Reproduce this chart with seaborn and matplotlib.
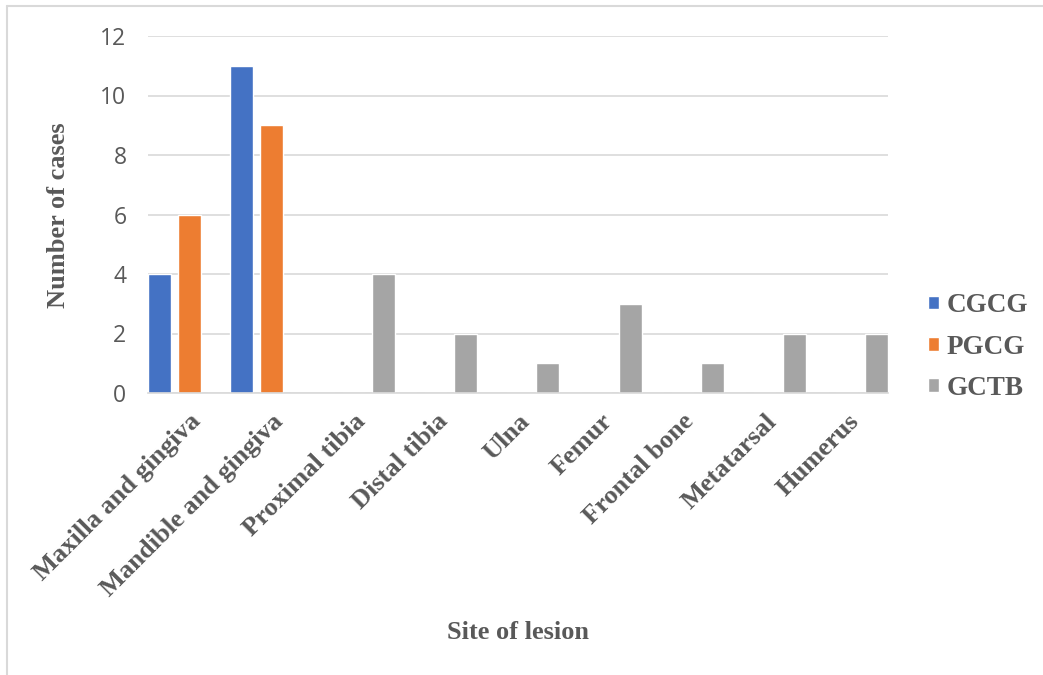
import matplotlib
matplotlib.use("Agg")
import matplotlib.pyplot as plt
from matplotlib.lines import Line2D
import seaborn as sns
import pandas as pd

categories = ["Maxilla and gingiva", "Mandible and gingiva", "Proximal tibia",
              "Distal tibia", "Ulna", "Femur", "Frontal bone", "Metatarsal", "Humerus"]
series_names = ["CGCG", "PGCG", "GCTB"]
cgcg = [4, 11, 0, 0, 0, 0, 0, 0, 0]
pgcg = [6, 9, 0, 0, 0, 0, 0, 0, 0]
gctb = [0, 0, 4, 2, 1, 3, 1, 2, 2]
colors = ["#4472C4", "#ED7D31", "#A5A5A5"]
y_ticks = [0, 2, 4, 6, 8, 10, 12]

rows = []
for name, vals in zip(series_names, [cgcg, pgcg, gctb]):
    for c, v in zip(categories, vals):
        rows.append({"Site": c, "Series": name, "Cases": v})
df = pd.DataFrame(rows)

sns.set_theme(style="white")
serif = ["Liberation Serif", "DejaVu Serif"]
sansf = ["Open Sans", "DejaVu Sans"]
txt = "#595959"
W, H = 1043, 675

fig = plt.figure(figsize=(10.43, 6.75), dpi=100)
ax = fig.add_axes([148 / W, 1 - 393 / H, (888 - 148) / W, (393 - 36) / H])

sns.barplot(data=df, x="Site", y="Cases", hue="Series", order=categories,
            hue_order=series_names, palette=colors, width=1.09, gap=0.23,
            saturation=1, ax=ax, legend=True)

ax.set_xlim(-0.5, len(categories) - 0.5)
ax.set_ylim(0, 12)
ax.set_yticks(y_ticks)
ax.yaxis.grid(True, color="#D9D9D9", linewidth=1.2)
ax.set_axisbelow(True)
for s in ["top", "right", "left"]:
    ax.spines[s].set_visible(False)
ax.spines["bottom"].set_color("#D9D9D9")
ax.spines["bottom"].set_linewidth(1.2)
ax.tick_params(axis="both", length=0)
ax.tick_params(axis="y", pad=15.5)

for lab in ax.get_yticklabels():
    lab.set_fontfamily(sansf)
    lab.set_fontsize(16.5)
    lab.set_color(txt)

ax.set_xticks(range(len(categories)))
ax.set_xticklabels(categories, rotation=45, ha="right", rotation_mode="anchor",
                   fontfamily=serif, fontweight="bold", fontsize=19, color=txt)
ax.tick_params(axis="x", pad=12)

ax.set_xlabel("Site of lesion", fontfamily=serif, fontweight="bold", fontsize=19,
              color=txt)
ax.xaxis.set_label_coords(518 / W, 1 - 621 / H, transform=fig.transFigure)
ax.set_ylabel("Number of cases", fontfamily=serif, fontweight="bold", fontsize=19,
              color=txt)
ax.yaxis.set_label_coords(70 / W, 1 - 215 / H, transform=fig.transFigure)

leg = ax.legend(loc="center left", bbox_to_anchor=(928 / W, 1 - 347 / H),
                bbox_transform=fig.transFigure, frameon=False,
                prop={"family": serif, "weight": "bold", "size": 19.5},
                handlelength=0.4, handleheight=0.4, handletextpad=0.3,
                labelspacing=0.6, borderpad=0, borderaxespad=0)
for t in leg.get_texts():
    t.set_color(txt)

fig.add_artist(Line2D([7 / W, 1], [1 - 6 / H, 1 - 6 / H], transform=fig.transFigure,
                      color="#D9D9D9", linewidth=1.5))
fig.add_artist(Line2D([7 / W, 7 / W], [0, 1 - 6 / H], transform=fig.transFigure,
                      color="#D9D9D9", linewidth=1.5))

fig.savefig("out.png", dpi=100, facecolor="white")
